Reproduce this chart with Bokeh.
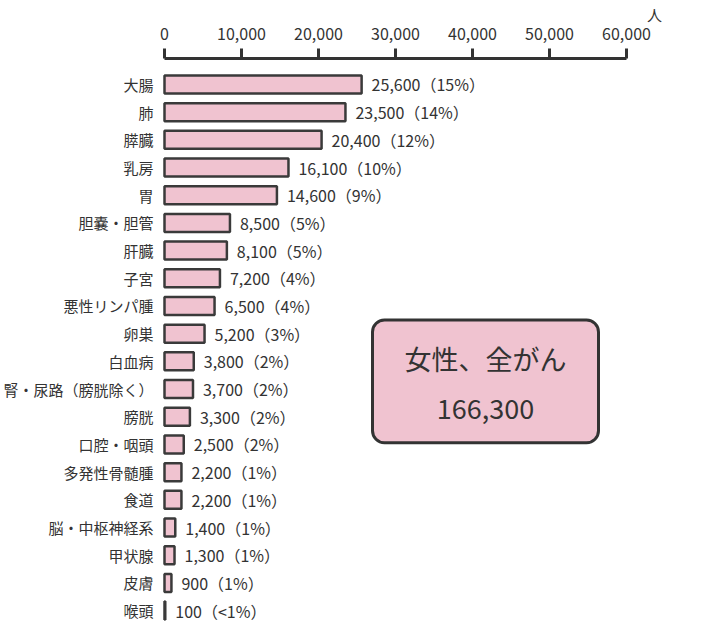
from bokeh.plotting import figure
from bokeh.models import Range1d, LinearAxis, FixedTicker, NumeralTickFormatter, ColumnDataSource
from bokeh.core.properties import value
from bokeh.embed import file_html
from bokeh.resources import INLINE

categories = ["大腸", "肺", "膵臓", "乳房", "胃", "胆嚢・胆管", "肝臓", "子宮", "悪性リンパ腫", "卵巣",
              "白血病", "腎・尿路（膀胱除く）", "膀胱", "口腔・咽頭", "多発性骨髄腫", "食道",
              "脳・中枢神経系", "甲状腺", "皮膚", "喉頭"]
counts = [25600, 23500, 20400, 16100, 14600, 8500, 8100, 7200, 6500, 5200,
          3800, 3700, 3300, 2500, 2200, 2200, 1400, 1300, 900, 100]
shares = ["15%", "14%", "12%", "10%", "9%", "5%", "5%", "4%", "4%", "3%",
          "2%", "2%", "2%", "2%", "1%", "1%", "1%", "1%", "1%", "<1%"]
x_ticks = [0, 10000, 20000, 30000, 40000, 50000, 60000]
unit_label = "人"
total_title = "女性、全がん"
total_value = "166,300"

FONT = "Noto Sans CJK JP"
TXT = "#333333"
PINK = "#f0c3d0"

W, H = 686, 628
frame_top = 57
x0_px, x60_px = 164, 626
ppu = (x60_px - x0_px) / 60000.0
x_start = -x0_px / ppu
x_end = x_start + W / ppu
row_px = 27.74
first_center = 83
y_end = (first_center - frame_top) / row_px
y_start = y_end - (H - frame_top) / row_px

def px2x(px):
    return x_start + px / ppu

def py2y(py):
    return y_end - (py - frame_top) / row_px

ys = [-i for i in range(len(categories))]
labels = [f"{c:,}（{s}）" for c, s in zip(counts, shares)]
zeros = [0] * len(categories)
src = ColumnDataSource(dict(y=ys, cnt=counts, cat=categories, lab=labels, z=zeros))

p = figure(width=W, height=H, output_backend="svg", toolbar_location=None,
           x_range=Range1d(x_start, x_end), y_range=Range1d(y_start, y_end),
           min_border_left=0, min_border_right=0, min_border_bottom=0, min_border_top=frame_top,
           x_axis_location=None, y_axis_location=None)
p.outline_line_color = None
p.grid.visible = False
p.background_fill_color = "white"

ax = LinearAxis(ticker=FixedTicker(ticks=x_ticks), formatter=NumeralTickFormatter(format="0,0"),
                bounds=(x_ticks[0], x_ticks[-1]))
ax.axis_line_width = 3
ax.axis_line_color = "#333333"
ax.major_tick_line_width = 3
ax.major_tick_line_color = "#333333"
ax.major_tick_out = 10
ax.major_tick_in = 0
ax.minor_tick_line_color = None
ax.major_label_standoff = 9
ax.major_label_text_font = FONT
ax.major_label_text_font_size = "16px"
ax.major_label_text_color = TXT
p.add_layout(ax, "above")

# unit label, drawn as a second (line-less) axis above the first
unit_x = px2x(654)
ax2 = LinearAxis(ticker=FixedTicker(ticks=[unit_x]), major_label_overrides={unit_x: unit_label})
ax2.axis_line_color = None
ax2.major_tick_line_color = None
ax2.minor_tick_line_color = None
ax2.major_tick_out = 0
ax2.major_tick_in = 0
ax2.major_label_standoff = 0
ax2.major_label_text_font = FONT
ax2.major_label_text_font_size = "15px"
ax2.major_label_text_color = TXT
p.add_layout(ax2, "above")

p.hbar(y="y", left=0, right="cnt", height=0.65, source=src,
       fill_color=PINK, line_color="#3a3a3a", line_width=2.5)

p.text(x="cnt", y="y", text="lab", source=src, x_offset=10,
       text_align="left", text_baseline="middle", text_font=value(FONT),
       text_font_size="16px", text_color=TXT)
p.text(x="z", y="y", text="cat", source=src, x_offset=-11,
       text_align="right", text_baseline="middle", text_font=value(FONT),
       text_font_size="15px", text_color=TXT)

# summary box
p.quad(left=[px2x(372)], right=[px2x(598)], top=[py2y(319)], bottom=[py2y(442)],
       fill_color=PINK, line_color="#333333", line_width=3, border_radius=12)
p.text(x=[px2x(485)], y=[py2y(358)], text=[total_title], text_align="center",
       text_baseline="middle", text_font=value(FONT), text_font_size="27px", text_color=TXT)
p.text(x=[px2x(485)], y=[py2y(408)], text=[total_value], text_align="center",
       text_baseline="middle", text_font=value(FONT), text_font_size="27px", text_color=TXT)

open("out.html", "w").write(file_html(p, INLINE))
